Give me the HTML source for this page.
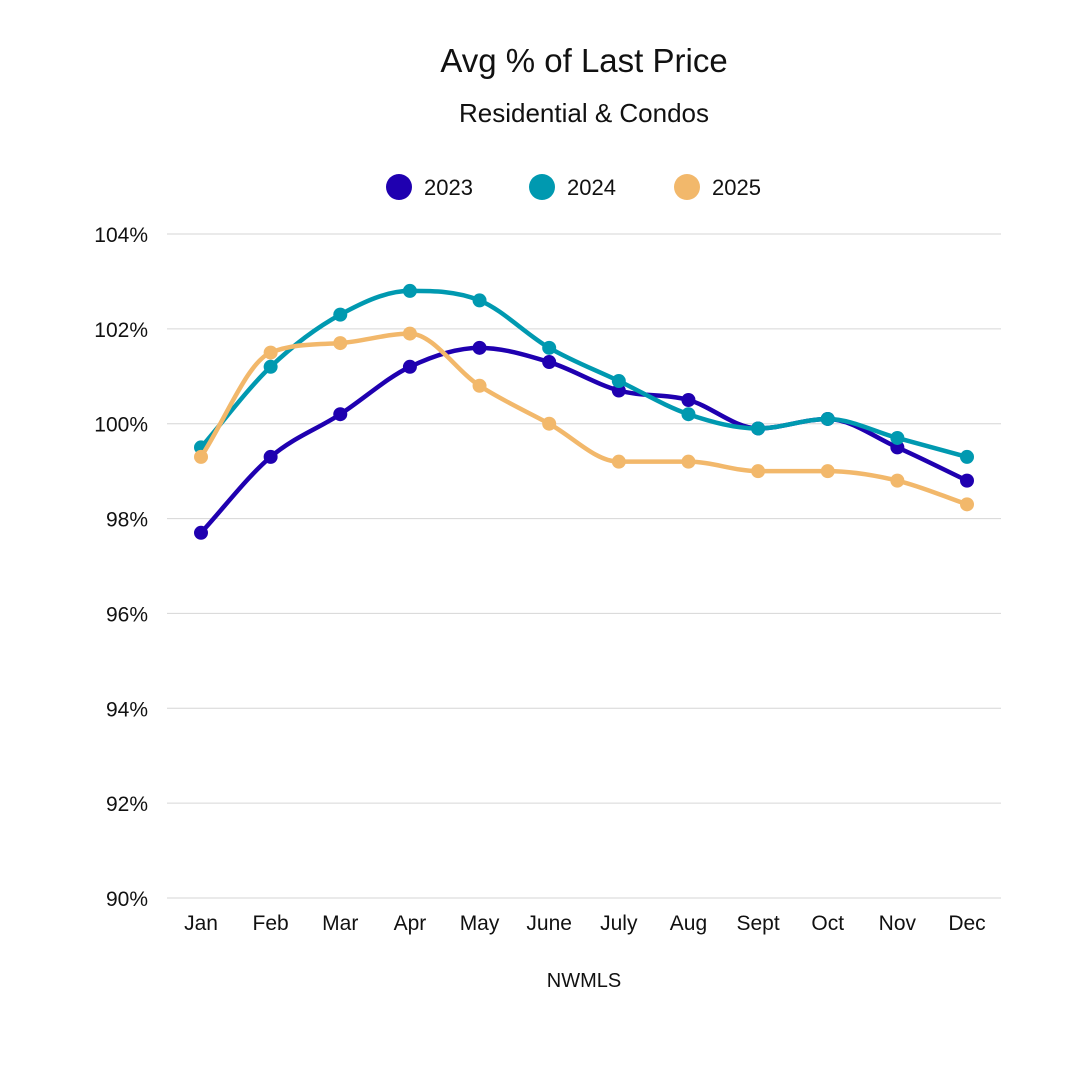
<!DOCTYPE html>
<html><head><meta charset="utf-8"><style>
html,body{margin:0;padding:0;background:#fff;}
svg text{font-family:"Liberation Sans","DejaVu Sans",sans-serif;fill:#111;}
</style></head><body>
<svg id="chart" width="1080" height="1080" viewBox="0 0 1080 1080">
<text x="584" y="72" text-anchor="middle" font-size="33">Avg % of Last Price</text>
<text x="584" y="122" text-anchor="middle" font-size="26">Residential &amp; Condos</text>
<g id="legend"></g>
<g id="grid"></g>
<g id="yaxis"></g>
<g id="xaxis"></g>
<g id="series"></g>
<text x="584" y="987" text-anchor="middle" font-size="20">NWMLS</text>
</svg>
<script>
const categories=["Jan","Feb","Mar","Apr","May","June","July","Aug","Sept","Oct","Nov","Dec"];
const seriesNames=["2023","2024","2025"];
const values2023=[97.7,99.3,100.2,101.2,101.6,101.3,100.7,100.5,99.9,100.1,99.5,98.8];
const values2024=[99.5,101.2,102.3,102.8,102.6,101.6,100.9,100.2,99.9,100.1,99.7,99.3];
const values2025=[99.3,101.5,101.7,101.9,100.8,100.0,99.2,99.2,99.0,99.0,98.8,98.3];
const yTicks=[90,92,94,96,98,100,102,104];
const colors=["#1f00b0","#0099b0","#f2b86b"];
const NS="http://www.w3.org/2000/svg";
const yMin=90,yMax=104,yTop=234,yBot=898,x0=201,x1=967,gL=167,gR=1001;
function y(v){return yBot-(v-yMin)/(yMax-yMin)*(yBot-yTop);}
function x(i){return x0+i*(x1-x0)/(categories.length-1);}
function mk(tag,attrs,parent){const e=document.createElementNS(NS,tag);for(const k in attrs)e.setAttribute(k,attrs[k]);parent.appendChild(e);return e;}
const grid=document.getElementById('grid'),ya=document.getElementById('yaxis'),xa=document.getElementById('xaxis'),ser=document.getElementById('series'),leg=document.getElementById('legend');
yTicks.forEach(t=>{
  const l=mk('line',{x1:gL,x2:gR,y1:y(t),y2:y(t),stroke:"#d6d6d6","stroke-width":1},grid);
  
  
  const tx=mk('text',{x:148,y:y(t)+8,"text-anchor":"end","font-size":21},ya);
  tx.textContent=t+"%";
  
  
});
categories.forEach((c,i)=>{
  const tx=mk('text',{x:x(i),y:930,"text-anchor":"middle","font-size":21},xa);
  tx.textContent=c;
  
  
});
function monotonePath(pts){
  const n=pts.length,d=[],m=[];
  for(let i=0;i<n-1;i++)d.push((pts[i+1][1]-pts[i][1])/(pts[i+1][0]-pts[i][0]));
  m[0]=d[0];m[n-1]=d[n-2];
  for(let i=1;i<n-1;i++){m[i]=(d[i-1]*d[i]<=0)?0:(d[i-1]+d[i])/2;}
  for(let i=0;i<n-1;i++){if(d[i]===0){m[i]=0;m[i+1]=0;continue;}const a=m[i]/d[i],b=m[i+1]/d[i],s=a*a+b*b;if(s>9){const t=3/Math.sqrt(s);m[i]=t*a*d[i];m[i+1]=t*b*d[i];}}
  let p="M"+pts[0][0]+","+pts[0][1];
  for(let i=0;i<n-1;i++){const h=(pts[i+1][0]-pts[i][0])/3;p+=" C"+(pts[i][0]+h)+","+(pts[i][1]+m[i]*h)+" "+(pts[i+1][0]-h)+","+(pts[i+1][1]-m[i+1]*h)+" "+pts[i+1][0]+","+pts[i+1][1];}
  return p;
}
[values2023,values2024,values2025].forEach((vals,s)=>{
  const g=mk('g',{},ser);
  
  
  const pts=vals.map((v,i)=>[x(i),y(v)]);
  const p=mk('path',{d:monotonePath(pts),fill:"none",stroke:colors[s],"stroke-width":4.5,"stroke-linecap":"round"},g);
  
  
  pts.forEach((pt,i)=>{
    const c=mk('circle',{cx:pt[0],cy:pt[1],r:7,fill:colors[s]},g);
    
    
  });
});
const legX=[399,542,687];
seriesNames.forEach((n,s)=>{
  const g=mk('g',{},leg);
  
  
  mk('circle',{cx:legX[s],cy:187,r:13,fill:colors[s]},g);
  const t=mk('text',{x:legX[s]+25,y:195,"font-size":22},g);
  t.textContent=n;
});
</script>
</body></html>
